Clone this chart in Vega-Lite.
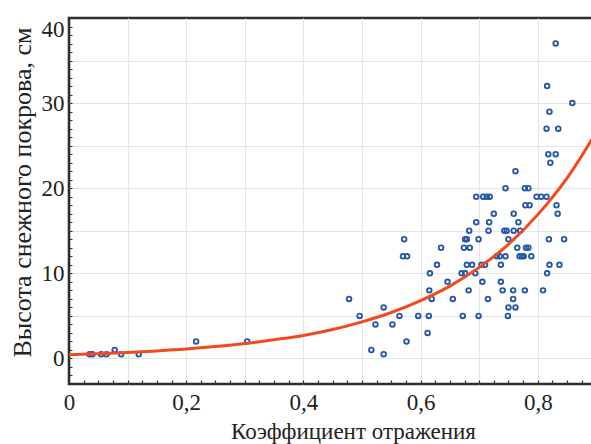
{
  "$schema": "https://vega.github.io/schema/vega-lite/v6.json",
  "width": 525,
  "height": 366,
  "autosize": {"type": "none"},
  "padding": {"left": 69, "top": 18, "right": 0, "bottom": 60},
  "background": "white",
  "config": {"view": {"stroke": "#2e2e2e", "strokeWidth": 2.6}},
  "datasets": {
    "pts": [
      {"r": 0.035, "h": 0.5}, {"r": 0.04, "h": 0.5}, {"r": 0.055, "h": 0.5}, {"r": 0.064, "h": 0.5},
      {"r": 0.078, "h": 1}, {"r": 0.089, "h": 0.5}, {"r": 0.119, "h": 0.5}, {"r": 0.217, "h": 2},
      {"r": 0.304, "h": 2}, {"r": 0.478, "h": 7}, {"r": 0.496, "h": 5}, {"r": 0.516, "h": 1},
      {"r": 0.523, "h": 4}, {"r": 0.537, "h": 6}, {"r": 0.537, "h": 0.5}, {"r": 0.552, "h": 4},
      {"r": 0.564, "h": 5}, {"r": 0.570, "h": 12}, {"r": 0.572, "h": 14}, {"r": 0.576, "h": 2},
      {"r": 0.577, "h": 12}, {"r": 0.596, "h": 5}, {"r": 0.612, "h": 3}, {"r": 0.614, "h": 5},
      {"r": 0.615, "h": 8}, {"r": 0.616, "h": 10}, {"r": 0.619, "h": 7}, {"r": 0.628, "h": 11},
      {"r": 0.635, "h": 13}, {"r": 0.646, "h": 9}, {"r": 0.655, "h": 7}, {"r": 0.670, "h": 10},
      {"r": 0.672, "h": 5}, {"r": 0.674, "h": 13}, {"r": 0.676, "h": 10}, {"r": 0.676, "h": 14},
      {"r": 0.679, "h": 14}, {"r": 0.679, "h": 11}, {"r": 0.682, "h": 8}, {"r": 0.683, "h": 15},
      {"r": 0.684, "h": 13}, {"r": 0.688, "h": 11}, {"r": 0.6935, "h": 10}, {"r": 0.695, "h": 16},
      {"r": 0.695, "h": 19}, {"r": 0.699, "h": 14}, {"r": 0.699, "h": 5}, {"r": 0.704, "h": 11},
      {"r": 0.7055, "h": 9}, {"r": 0.707, "h": 19}, {"r": 0.710, "h": 11}, {"r": 0.713, "h": 19},
      {"r": 0.715, "h": 7}, {"r": 0.716, "h": 15}, {"r": 0.717, "h": 16}, {"r": 0.718, "h": 19},
      {"r": 0.725, "h": 17}, {"r": 0.730, "h": 12}, {"r": 0.735, "h": 12}, {"r": 0.737, "h": 11},
      {"r": 0.737, "h": 9}, {"r": 0.740, "h": 8}, {"r": 0.743, "h": 15}, {"r": 0.745, "h": 20},
      {"r": 0.745, "h": 12}, {"r": 0.747, "h": 15}, {"r": 0.749, "h": 5}, {"r": 0.750, "h": 14},
      {"r": 0.750, "h": 6}, {"r": 0.758, "h": 8}, {"r": 0.758, "h": 7}, {"r": 0.759, "h": 17},
      {"r": 0.759, "h": 15}, {"r": 0.762, "h": 22}, {"r": 0.762, "h": 6}, {"r": 0.765, "h": 13},
      {"r": 0.767, "h": 16}, {"r": 0.769, "h": 12}, {"r": 0.770, "h": 15}, {"r": 0.773, "h": 12},
      {"r": 0.776, "h": 12}, {"r": 0.778, "h": 20}, {"r": 0.778, "h": 8}, {"r": 0.779, "h": 18},
      {"r": 0.780, "h": 13}, {"r": 0.784, "h": 20}, {"r": 0.784, "h": 13}, {"r": 0.786, "h": 18},
      {"r": 0.789, "h": 12}, {"r": 0.798, "h": 19}, {"r": 0.806, "h": 19}, {"r": 0.809, "h": 8},
      {"r": 0.815, "h": 19}, {"r": 0.815, "h": 27}, {"r": 0.816, "h": 32}, {"r": 0.816, "h": 10},
      {"r": 0.818, "h": 24}, {"r": 0.819, "h": 14}, {"r": 0.820, "h": 29}, {"r": 0.820, "h": 11},
      {"r": 0.8215, "h": 23}, {"r": 0.8306, "h": 37}, {"r": 0.8306, "h": 24}, {"r": 0.832, "h": 18},
      {"r": 0.834, "h": 17}, {"r": 0.835, "h": 27}, {"r": 0.837, "h": 11}, {"r": 0.845, "h": 14},
      {"r": 0.859, "h": 30}
    ],
    "curve": [
      {"r": 0.0, "h": 0.45}, {"r": 0.05, "h": 0.56}, {"r": 0.1, "h": 0.71}, {"r": 0.15, "h": 0.89},
      {"r": 0.2, "h": 1.11}, {"r": 0.25, "h": 1.40}, {"r": 0.3, "h": 1.75}, {"r": 0.35, "h": 2.2},
      {"r": 0.4, "h": 2.7}, {"r": 0.45, "h": 3.4}, {"r": 0.5, "h": 4.3}, {"r": 0.55, "h": 5.4},
      {"r": 0.6, "h": 6.8}, {"r": 0.65, "h": 8.5}, {"r": 0.7, "h": 10.7}, {"r": 0.75, "h": 13.4},
      {"r": 0.8, "h": 16.9}, {"r": 0.85, "h": 21.2}, {"r": 0.9, "h": 26.6}
    ]
  },
  "layer": [
    {
      "data": {"name": "pts"},
      "mark": {"type": "point", "shape": "circle", "filled": false, "size": 22, "strokeWidth": 1.8, "color": "#2356a8", "opacity": 1},
      "encoding": {
        "x": {
          "field": "r", "type": "quantitative",
          "scale": {"domain": [0, 0.896], "nice": false, "zero": false},
          "axis": {
            "orient": "bottom",
            "values": [0, 0.025, 0.05, 0.075, 0.1, 0.125, 0.15, 0.175, 0.2, 0.225, 0.25, 0.275, 0.3, 0.325, 0.35, 0.375, 0.4, 0.425, 0.45, 0.475, 0.5, 0.525, 0.55, 0.575, 0.6, 0.625, 0.65, 0.675, 0.7, 0.725, 0.75, 0.775, 0.8, 0.825, 0.85, 0.875],
            "labelExpr": "abs(datum.value * 5 - round(datum.value * 5)) < 0.001 ? (datum.value == 0 ? '0' : replace(format(datum.value, '.1f'), '.', ',')) : ''",
            "grid": false, "domain": false,
            "tickSize": -4, "tickColor": "#333", "tickWidth": 1.2,
            "labelFont": "Liberation Serif", "labelFontSize": 23, "labelColor": "#222",
            "labelPadding": 11, "labelFlush": false, "labelOverlap": false,
            "title": "Коэффициент  отражения",
            "titleFont": "Liberation Serif", "titleFontSize": 23, "titleFontWeight": "normal", "titleColor": "#222",
            "titleBaseline": "alphabetic", "titleY": 54, "titleX": 284, "titleAlign": "center"
          }
        },
        "y": {
          "field": "h", "type": "quantitative",
          "scale": {"domain": [-3, 40], "nice": false, "zero": false},
          "axis": {
            "orient": "left",
            "values": [-3, -2, -1, 0, 1, 2, 3, 4, 5, 6, 7, 8, 9, 10, 11, 12, 13, 14, 15, 16, 17, 18, 19, 20, 21, 22, 23, 24, 25, 26, 27, 28, 29, 30, 31, 32, 33, 34, 35, 36, 37, 38, 39, 40],
            "labelExpr": "datum.value >= 0 && datum.value % 10 == 0 ? datum.value : ''",
            "grid": false, "domain": false,
            "tickSize": -3, "tickColor": "#333", "tickWidth": 1.1,
            "labelFont": "Liberation Serif", "labelFontSize": 23, "labelColor": "#222",
            "labelPadding": 8, "labelFlush": true, "labelOverlap": false,
            "title": "Высота снежного покрова, см",
            "titleFont": "Liberation Serif", "titleFontSize": 26, "titleFontWeight": "normal", "titleColor": "#222",
            "titleX": -47, "titleY": 174, "titleBaseline": "middle", "titleAlign": "center", "titleAngle": -90
          }
        }
      }
    },
    {
      "data": {"name": "curve"},
      "mark": {"type": "line", "color": "#f04a1e", "strokeWidth": 3, "interpolate": "monotone", "clip": true},
      "encoding": {
        "x": {
          "field": "r", "type": "quantitative",
          "axis": {"orient": "bottom", "values": [0.1, 0.2, 0.3, 0.4, 0.5, 0.6, 0.7, 0.8], "grid": true, "gridColor": "#e2e5e9", "gridWidth": 1, "labels": false, "ticks": false, "domain": false, "title": null}
        },
        "y": {
          "field": "h", "type": "quantitative",
          "axis": {"orient": "left", "values": [0, 5, 10, 15, 20, 25, 30, 35], "grid": true, "gridColor": "#e2e5e9", "gridWidth": 1, "labels": false, "ticks": false, "domain": false, "title": null}
        }
      }
    }
  ],
  "resolve": {"axis": {"x": "independent", "y": "independent"}}
}
